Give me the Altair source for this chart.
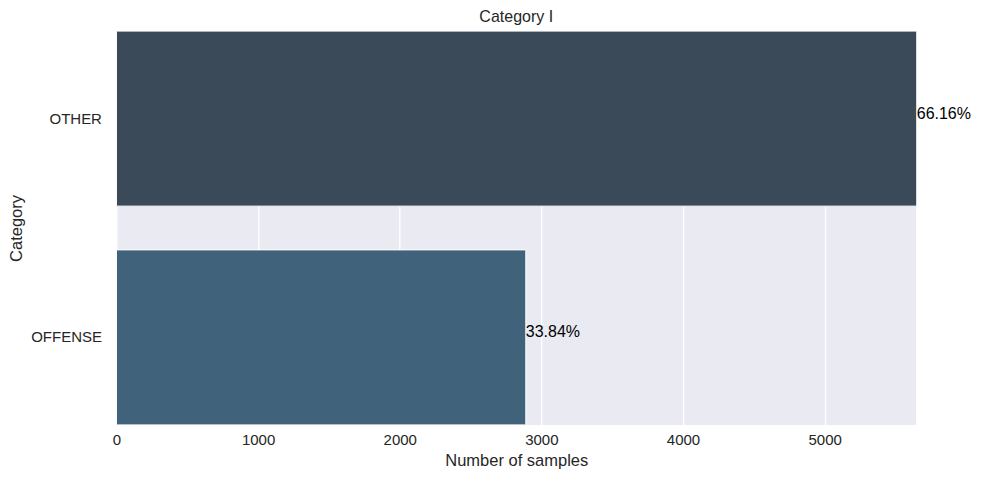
import altair as alt
import pandas as pd

categories = ["OTHER", "OFFENSE"]
counts = [5650, 2890]
percent_labels = ["66.16%", "33.84%"]
bar_colors = ["#3a4a58", "#40627b"]
x_ticks = [0, 1000, 2000, 3000, 4000, 5000]

df = pd.DataFrame({"Category": categories, "count": counts, "label": percent_labels})

FONT = "Liberation Sans"

x_enc = alt.X(
    "count:Q",
    title="Number of samples",
    scale=alt.Scale(domain=[0, 5645], nice=False, zero=True),
    axis=alt.Axis(values=x_ticks, format="d", grid=True, gridColor="white",
                  gridWidth=1.3, domain=False, ticks=False, labelPadding=8,
                  labelFlush=False, labelFontSize=15, labelColor="#262626",
                  titleFontSize=16.5, titleColor="#262626", titleFontWeight="normal",
                  titlePadding=5, labelFont=FONT, titleFont=FONT),
)
y_enc = alt.Y(
    "Category:N",
    title="Category",
    sort=categories,
    scale=alt.Scale(paddingInner=0.2, paddingOuter=0),
    axis=alt.Axis(grid=False, domain=False, ticks=False, labelPadding=15,
                  labelFontSize=15, labelColor="#262626", titleFontSize=16.5,
                  titleColor="#262626", titleFontWeight="normal", titlePadding=6,
                  labelFont=FONT, titleFont=FONT),
)

bars = alt.Chart(df).mark_bar(stroke="white", strokeWidth=1).encode(
    x=x_enc,
    y=y_enc,
    color=alt.Color("Category:N", scale=alt.Scale(domain=categories, range=bar_colors), legend=None),
)

texts = alt.Chart(df).mark_text(align="left", baseline="alphabetic",
                                fontSize=16, font=FONT, color="black").encode(
    x="count:Q",
    y=alt.Y("Category:N", sort=categories),
    text="label:N",
)

chart = alt.layer(bars, texts).properties(
    width=800,
    height=394,
    background="white",
    title=alt.TitleParams("Category I", fontSize=16, font=FONT, fontWeight="normal",
                          color="#262626", anchor="middle", offset=6),
    autosize=alt.AutoSizeParams(type="none"),
    padding={"left": 108.5, "top": 23, "right": 60, "bottom": 52},
).configure_view(fill="#eaeaf2", strokeWidth=0)

chart.save("out.html", embed_options={"renderer": "svg", "actions": False})
